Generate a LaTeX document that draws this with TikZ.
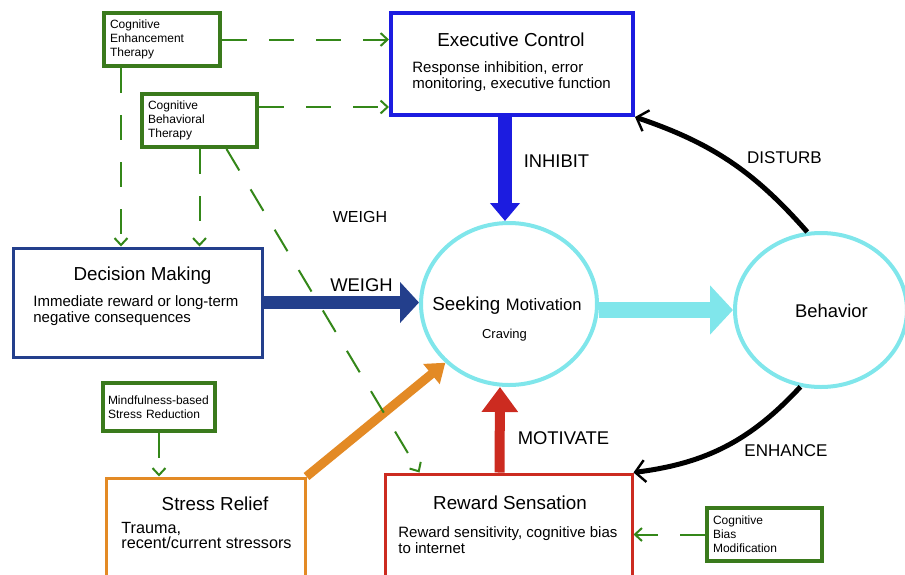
\documentclass[tikz,border=0pt]{standalone}
\usepackage{fontspec}
\setmainfont{Liberation Sans}
\usetikzlibrary{arrows.meta,positioning,shapes.geometric}
\definecolor{verde}{HTML}{3A7A1C}
\definecolor{azulec}{HTML}{1C1CE0}
\definecolor{azuldm}{HTML}{233F8C}
\definecolor{cian}{HTML}{80E6EB}
\definecolor{naranja}{HTML}{E38A25}
\definecolor{rojo}{HTML}{CC2B20}
\newcommand{\ftit}{\fontsize{9.4}{11}\selectfont}
\newcommand{\fdesc}{\fontsize{7.5}{8}\selectfont}
\newcommand{\fter}{\fontsize{6}{7}\selectfont}
\newcommand{\fetq}{\fontsize{9.2}{11}\selectfont}
\newcommand{\fcur}{\fontsize{8.5}{10}\selectfont}

\begin{document}
\begin{tikzpicture}[x=0.5pt,y=-0.5pt,
          caja/.style={draw,line width=1.5pt,inner sep=0pt},
          terapia/.style={draw=verde,line width=2pt,inner xsep=3pt,inner ysep=0pt,align=left,font=\fter},
          circulo/.style={ellipse,draw=cian,line width=2pt,inner sep=0pt},
          texto/.style={inner sep=0pt},
          desc/.style={inner sep=0pt,font=\fdesc,align=left,anchor=north west},
          discont/.style={verde!90!green,line width=1pt,dash pattern=on 12.5pt off 11pt,-{Straight Barb[length=3.5pt,width=6.5pt]}},
          curva/.style={line width=2.5pt,-{Straight Barb[length=5pt,width=11pt,line width=1.2pt]}}]
        \useasboundingbox (0,0) rectangle (905,574);
        % terapias
        \node[terapia,text width=52pt,minimum height=26.5pt] (cet) at (162,39.5) {Cognitive\\Enhancement\\Therapy};
        \node[terapia,text width=51.5pt,minimum height=26.5pt] (cbt) at (199.5,120.5) {Cognitive\\Behavioral\\Therapy};
        \node[terapia,inner xsep=2.5pt,text width=51pt,minimum height=24pt] (mbsr) at (159,407) {Mindfulness-based\\Stress Reduction};
        \node[terapia,text width=51.5pt,minimum height=26.5pt] (cbm) at (764.5,534.5) {Cognitive\\Bias\\Modification};
        % cuadros principales
        \node[caja,draw=azulec,line width=2pt,minimum width=121pt,minimum height=51pt] (exec) at (512,64) {};
        \node[caja,draw=azuldm,minimum width=124.5pt,minimum height=54.5pt] (dm) at (137.5,302.5) {};
        \node[caja,draw=naranja,minimum width=99.5pt,minimum height=61pt] (stress) at (205.5,539) {};
        \node[caja,draw=rojo,minimum width=123.5pt,minimum height=58pt] (reward) at (508.5,532) {};
        \node[circulo,minimum width=88pt,minimum height=81pt] (seek) at (509,304) {};
        \node[circulo,minimum width=86pt,minimum height=77pt] (behav) at (821,310) {};
        % textos
        \node[texto,font=\ftit,anchor=base] (exec-t) at (511,46) {Executive Control};
        \node[desc] (exec-d) at (412,61.5) {Response inhibition, error\\monitoring, executive function};
        \node[texto,font=\ftit,anchor=base] (dm-t) at (142.5,280) {Decision Making};
        \node[desc] (dm-d) at (33,295.5) {Immediate reward or long-term\\negative consequences};
        \node[texto,font=\ftit,anchor=base] (stress-t) at (215,510) {Stress Relief};
        \node[desc,font=\fontsize{8.1}{7.6}\selectfont] (stress-d) at (121,522) {Trauma,\\recent/current stressors};
        \node[texto,font=\ftit,anchor=base] (reward-t) at (510,509) {Reward Sensation};
        \node[desc] (reward-d) at (398,526.5) {Reward sensitivity, cognitive bias\\to internet};
        \node[texto,anchor=base] (seek-t) at (507,310) {{\ftit Seeking} {\fontsize{8.3}{10}\selectfont Motivation}};
        \node[texto,anchor=base,font=\fontsize{6.5}{8}\selectfont] (seek-d) at (504.5,338) {Craving};
        \node[texto,anchor=base,font=\fetq] (behav-t) at (831.5,317) {Behavior};
        % flechas gruesas
        \coordinate (inh) at ([xshift=-2pt]seek.north);
        \draw[azulec,line width=7pt,-{Triangle[length=9pt,width=14.5pt]}] (inh |- exec.south) -- (inh);
        \draw[azuldm,line width=6.5pt,-{Triangle[length=9.5pt,width=20pt]}] (dm.east) -- (dm.east -| seek.west);
        \draw[cian,line width=8pt,-{Triangle[length=11.5pt,width=24pt]}] (behav.west -| seek.east) -- (behav.west);
        \draw[rojo,line width=5pt,-{Triangle[length=12.5pt,width=17.5pt]}] ([xshift=-4.5pt]reward.north) -- ([xshift=-4.5pt]seek.south);
        \draw[naranja,line width=4.5pt,-{Triangle[length=9pt,width=12.5pt]}] (stress.north east) -- (seek.south west);
        \draw[curva] (behav.100) to[bend right=15] (exec.south east);
        \draw[curva] (behav.255) to[bend left=20] (reward.north east);
        \node[texto,font=\fetq] (inhibit) at (556.5,161) {INHIBIT};
        \node[texto,font=\fetq] (weigh) at (361.5,285.5) {WEIGH};
        \node[texto,font=\fontsize{8}{10}\selectfont] (weigh2) at (360,217) {WEIGH};
        \node[texto,font=\fetq] (motivate) at (563.5,438) {MOTIVATE};
        \node[texto,font=\fcur] (disturb) at (784.5,157.5) {DISTURB};
        \node[texto,font=\fcur] (enhance) at (786,451) {ENHANCE};
        % flechas de las terapias
        \coordinate (cbtder) at ([yshift=6.75pt]cbt.east);
        \coordinate (cetaba) at ([xshift=-20.5pt]cet.south);
        \coordinate (cbtdiag) at ([xshift=13.5pt]cbt.south);
        \coordinate (recomp) at ([xshift=18pt]reward.north west);
        \draw[discont] (cet.east) -- (cet.east -| exec.west);
        \draw[discont] (cbtder) -- (cbtder -| exec.west);
        \draw[discont] (cetaba) -- (cetaba |- dm.north);
        \draw[discont] (cbt.south) -- (cbt.south |- dm.north);
        \draw[discont] (cbtdiag) -- (recomp);
        \draw[discont] (mbsr.south) -- (mbsr.south |- stress.north);
        \draw[discont] (cbm.west) -- (cbm.west -| reward.east);
      \end{tikzpicture}
\end{document}
